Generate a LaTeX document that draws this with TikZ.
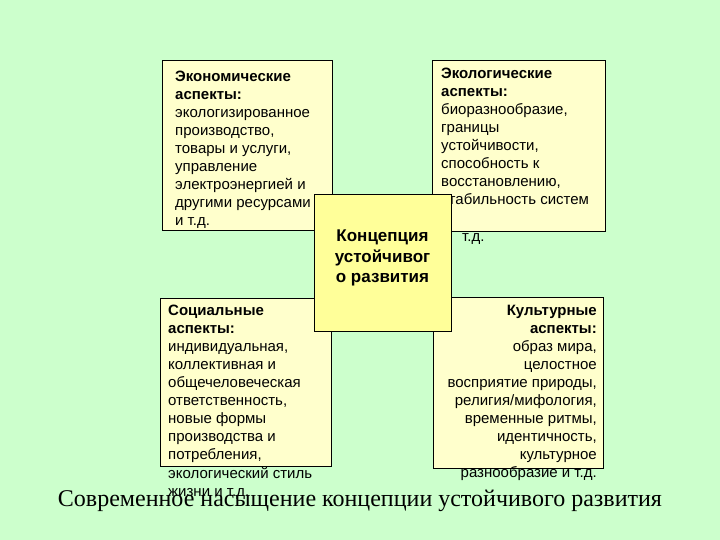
\documentclass[tikz,border=0pt]{standalone}
\usepackage{fontspec}
\setmainfont{Liberation Sans}
\newfontfamily\titlefont{Liberation Serif}
\definecolor{bg}{HTML}{CCFFCC}
\definecolor{boxfill}{HTML}{FFFFCC}
\definecolor{corefill}{HTML}{FFFF99}
\tikzset{
  aspectbox/.style={draw=black, line width=0.8pt, fill=boxfill, anchor=north west, inner sep=0pt},
  corebox/.style={draw=black, line width=0.8pt, fill=corefill, anchor=north west, inner sep=0pt},
  aspecttxt/.style={inner sep=0pt, font=\fontsize{15}{18.1}\selectfont},
  coretxt/.style={inner sep=0pt, align=center, font=\fontsize{17}{20.5}\selectfont\bfseries},
  titletxt/.style={inner sep=0pt, font=\titlefont\fontsize{24}{28}\selectfont}
}
\begin{document}
\begin{tikzpicture}[x=1pt,y=-1pt]
\fill[bg] (0,0) rectangle (720,540);
\useasboundingbox (0,0) rectangle (720,540);
% top-left
\node[aspectbox, minimum width=170pt, minimum height=170pt] (econ) at (162,60) {};
\node[aspecttxt, anchor=north west, align=left] (econtxt) at (175,70.5) {\textbf{Экономические}\\\textbf{аспекты:}\\экологизированное\\производство,\\товары и услуги,\\управление\\электроэнергией и\\другими ресурсами\\и т.д.};
% top-right
\node[aspectbox, minimum width=173pt, minimum height=171pt] (eco) at (432,60) {};
\node[aspecttxt, anchor=north west, align=left] (ecotxt) at (441,67.5) {\textbf{Экологические}\\\textbf{аспекты:}\\биоразнообразие,\\границы\\устойчивости,\\способность к\\восстановлению,\\стабильность систем\\ \\\hspace*{21pt}т.д.};
% bottom-left
\node[aspectbox, minimum width=171pt, minimum height=168pt] (soc) at (160,298) {};
\node[aspecttxt, anchor=north west, align=left] (soctxt) at (168,304.5) {\textbf{Социальные}\\\textbf{аспекты:}\\индивидуальная,\\коллективная и\\общечеловеческая\\ответственность,\\новые формы\\производства и\\потребления,\\экологический стиль\\жизни и т.д.};
% bottom-right
\node[aspectbox, minimum width=170pt, minimum height=171pt] (cult) at (433,297) {};
\node[aspecttxt, anchor=north east, align=right] (culttxt) at (597,304.5) {\textbf{Культурные}\\\textbf{аспекты:}\\образ мира,\\целостное\\восприятие природы,\\религия/мифология,\\временные ритмы,\\идентичность,\\культурное\\разнообразие и т.д.};
% center
\node[corebox, minimum width=137pt, minimum height=137pt] (core) at (314,194) {};
\node[coretxt] (coretext) at (382.5,258) {Концепция\\устойчивог\\о развития};
% title
\node[titletxt] (title) at (360,501) {Современное насыщение концепции устойчивого развития};
\end{tikzpicture}
\end{document}
